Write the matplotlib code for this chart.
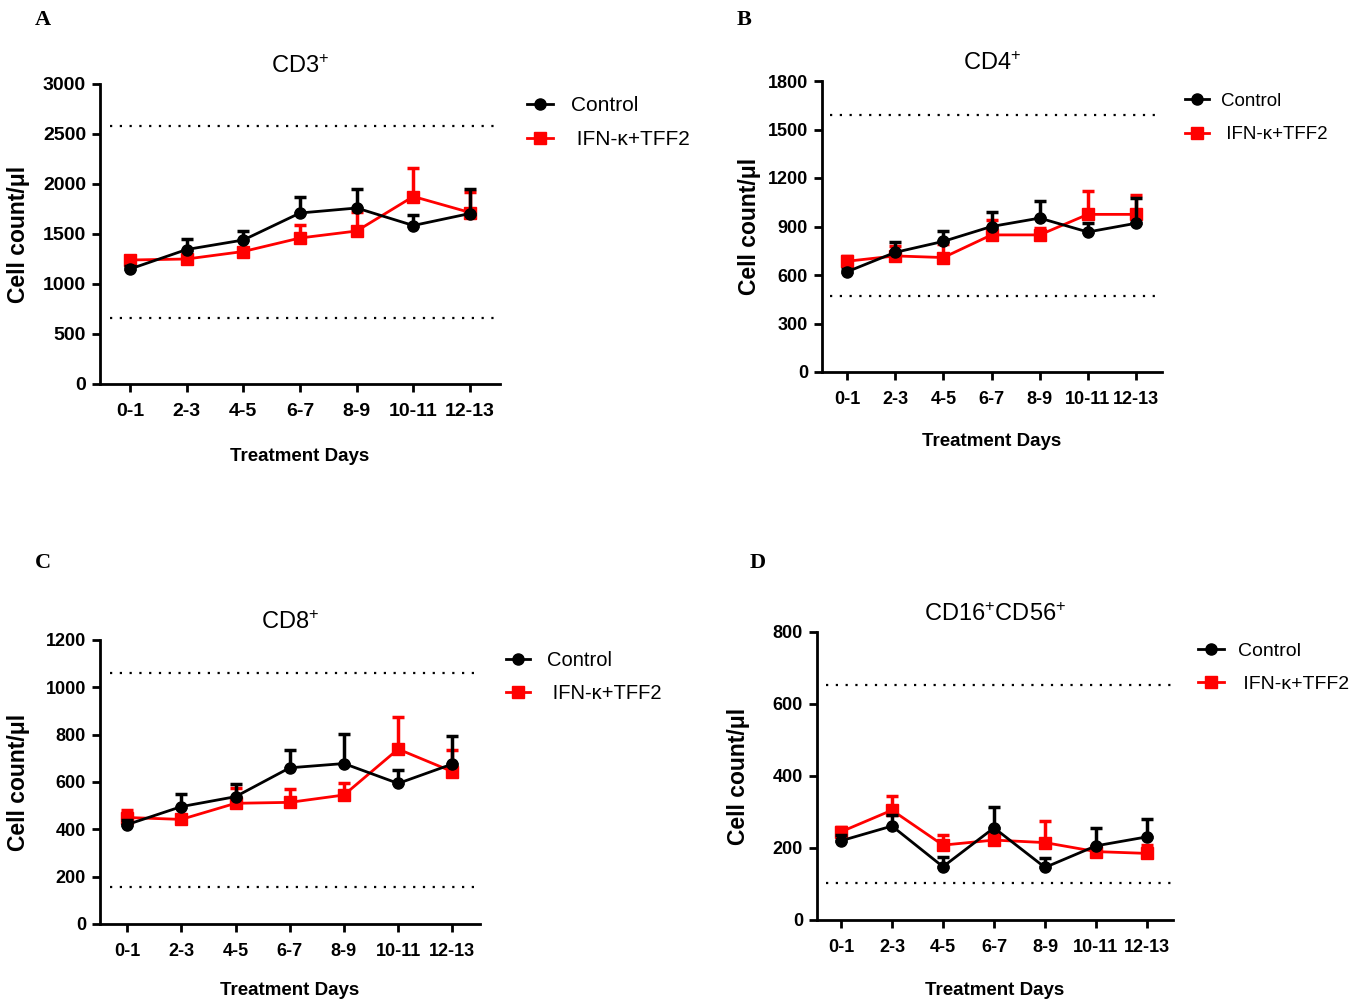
import matplotlib
matplotlib.use('Agg')
import numpy as np
from matplotlib import pyplot as plt
from matplotlib.lines import Line2D

plt.rcParams['font.family'] = ['Liberation Sans', 'DejaVu Sans']
plt.rcParams['mathtext.fontset'] = 'custom'
plt.rcParams['mathtext.rm'] = 'Liberation Sans'
plt.rcParams['mathtext.it'] = 'Liberation Sans'

days = ['0-1', '2-3', '4-5', '6-7', '8-9', '10-11', '12-13']

# CD3+
cd3_ctrl = [1150, 1345, 1440, 1710, 1760, 1585, 1705]
cd3_ctrl_err = [30, 105, 95, 160, 190, 110, 245]
cd3_trt = [1240, 1250, 1325, 1460, 1530, 1875, 1715]
cd3_trt_err = [40, 40, 40, 135, 190, 285, 210]
cd3_ref = [660, 2580]

# CD4+
cd4_ctrl = [620, 740, 808, 900, 952, 866, 920]
cd4_ctrl_err = [20, 65, 65, 90, 105, 55, 155]
cd4_trt = [685, 718, 708, 848, 848, 975, 975]
cd4_trt_err = [30, 60, 85, 90, 40, 145, 120]
cd4_ref = [470, 1590]

# CD8+
cd8_ctrl = [420, 496, 538, 660, 678, 594, 676]
cd8_ctrl_err = [20, 52, 53, 75, 125, 57, 118]
cd8_trt = [450, 442, 510, 514, 545, 739, 644]
cd8_trt_err = [32, 15, 63, 58, 52, 137, 92]
cd8_ref = [155, 1060]

# CD16+CD56+
nk_ctrl = [220, 261, 148, 256, 146, 206, 231]
nk_ctrl_err = [15, 31, 26, 57, 25, 49, 49]
nk_trt = [245, 305, 208, 222, 215, 190, 185]
nk_trt_err = [12, 39, 28, 18, 61, 15, 23]
nk_ref = [103, 653]

W, H = 1361, 1001
fig = plt.figure(figsize=(W / 100, H / 100), dpi=100)


def rect(x0, x1, ytop, ybot):
    return [x0 / W, (H - ybot) / H, (x1 - x0) / W, (ybot - ytop) / H]


panels = [
    dict(letter='A', title='CD3$^{+}$', ctrl=cd3_ctrl, ctrl_err=cd3_ctrl_err,
         trt=cd3_trt, trt_err=cd3_trt_err, ref=cd3_ref,
         rect=rect(100, 500, 84, 384), xlim=(-0.53, 6.53), ymax=3000, step=500,
         letter_xy=(35, 20), tick_fs=14, ylab=(-0.175, 0.5), xlab=(0.5, -0.213),
         leg=(1.0675, 0.96), leg_fs=15, hl=1.25, htp=0.87, ls=0.74),
    dict(letter='B', title='CD4$^{+}$', ctrl=cd4_ctrl, ctrl_err=cd4_ctrl_err,
         trt=cd4_trt, trt_err=cd4_trt_err, ref=cd4_ref,
         rect=rect(822, 1162, 81, 372), xlim=(-0.52, 6.54), ymax=1800, step=300,
         letter_xy=(737, 20), tick_fs=13, ylab=(-0.18, 0.5), xlab=(0.5, -0.21),
         leg=(1.068, 0.959), leg_fs=13.5, hl=1.3, htp=0.62, ls=0.85),
    dict(letter='C', title='CD8$^{+}$', ctrl=cd8_ctrl, ctrl_err=cd8_ctrl_err,
         trt=cd8_trt, trt_err=cd8_trt_err, ref=cd8_ref,
         rect=rect(100, 480, 640, 924), xlim=(-0.5, 6.51), ymax=1200, step=200,
         letter_xy=(35, 563), tick_fs=13, ylab=(-0.184, 0.5), xlab=(0.5, -0.204),
         leg=(1.068, 0.961), leg_fs=14.5, hl=1.2, htp=0.85, ls=0.7),
    dict(letter='D', title='CD16$^{+}$CD56$^{+}$', ctrl=nk_ctrl, ctrl_err=nk_ctrl_err,
         trt=nk_trt, trt_err=nk_trt_err, ref=nk_ref,
         rect=rect(817, 1173, 632, 920), xlim=(-0.47, 6.51), ymax=800, step=200,
         letter_xy=(750, 563), tick_fs=13, ylab=(-0.188, 0.5), xlab=(0.5, -0.215),
         leg=(1.07, 0.965), leg_fs=14, hl=1.35, htp=0.72, ls=0.8),
]

x = np.arange(len(days))
red = '#ff0000'

for p in panels:
    ax = fig.add_axes(p['rect'])
    zeros = np.zeros(len(days))
    ax.errorbar(x, p['trt'], yerr=[zeros, p['trt_err']], color=red, lw=2,
                marker='s', ms=8, elinewidth=2.5, capsize=4.5, capthick=2.5,
                zorder=3)
    ax.errorbar(x, p['ctrl'], yerr=[zeros, p['ctrl_err']], color='black', lw=2,
                marker='o', ms=8, elinewidth=2.5, capsize=4.5, capthick=2.5,
                zorder=4)
    for r in p['ref']:
        ax.axhline(r, xmin=0.025, xmax=1.0, color='black', lw=1.6,
                   linestyle=(0, (1, 3.4)), zorder=1)

    ax.set_xlim(*p['xlim'])
    ax.set_ylim(0, p['ymax'])
    ax.set_yticks(np.arange(0, p['ymax'] + 1, p['step']))
    ax.set_xticks(x)
    ax.set_xticklabels(days)
    for s in ['top', 'right']:
        ax.spines[s].set_visible(False)
    for s in ['left', 'bottom']:
        ax.spines[s].set_linewidth(2)
    ax.tick_params(direction='out', length=6, width=2, pad=4)
    ax.tick_params(axis='x', pad=8)
    for lab in ax.get_xticklabels() + ax.get_yticklabels():
        lab.set_fontweight('bold')
        lab.set_fontsize(p['tick_fs'])

    ax.set_title(p['title'], fontsize=17, pad=8)
    ax.set_ylabel('Cell count/μl', fontsize=16.5, fontweight='bold')
    ax.set_xlabel('Treatment Days', fontsize=13.5, fontweight='bold')
    ax.yaxis.set_label_coords(*p['ylab'])
    ax.xaxis.set_label_coords(*p['xlab'])

    handles = [
        Line2D([], [], color='black', lw=2, marker='o', ms=8, label='Control'),
        Line2D([], [], color=red, lw=2, marker='s', ms=8, label=' IFN-κ+TFF2'),
    ]
    ax.legend(handles=handles, loc='upper left', bbox_to_anchor=p['leg'],
              frameon=False, fontsize=p['leg_fs'], handlelength=p['hl'],
              handletextpad=p['htp'], labelspacing=p['ls'],
              borderpad=0, borderaxespad=0)

    fig.text(p['letter_xy'][0] / W, 1 - p['letter_xy'][1] / H, p['letter'],
             family='Liberation Serif', fontweight='bold', fontsize=16,
             ha='left', va='center')

fig.savefig('out.png', dpi=100)
